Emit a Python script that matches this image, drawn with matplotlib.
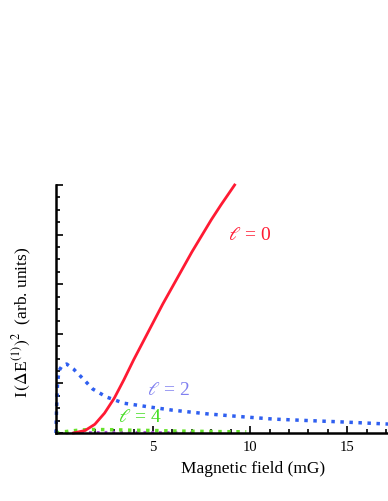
import numpy as np
import matplotlib
matplotlib.use('Agg')
import matplotlib.pyplot as plt
from matplotlib.ticker import MultipleLocator

plt.rcParams['font.family'] = ['Liberation Serif', 'DejaVu Serif']
plt.rcParams['mathtext.fontset'] = 'stix'

# l = 0 (red, solid)
x_l0 = [0.9, 1.5, 2.0, 2.5, 3.0, 3.5, 4.0, 4.5, 5.0, 5.5, 6.0, 6.5, 7.0, 7.5, 8.0, 8.5, 9.2]
y_l0 = [0.0, 0.01, 0.035, 0.08, 0.14, 0.215, 0.295, 0.37, 0.445, 0.52, 0.59, 0.66, 0.73, 0.795, 0.86, 0.92, 1.0]

# l = 2 (blue, dotted)
x_l2 = [0.0, 0.03, 0.08, 0.15, 0.3, 0.55, 0.9, 1.4, 1.9, 2.6, 3.5, 4.8, 6.0, 7.8, 9.5, 11.2, 13.0, 14.6, 17.1]
y_l2 = [0.0, 0.1, 0.2, 0.25, 0.27, 0.278, 0.258, 0.218, 0.177, 0.145, 0.12, 0.105, 0.092, 0.077, 0.066, 0.056, 0.05, 0.045, 0.036]

# l = 4 (green, dotted)
x_l4 = [0.0, 0.3, 1.0, 1.5, 2.0, 3.0, 4.0, 5.0, 6.0, 7.0, 8.0, 9.0, 9.8]
y_l4 = [0.0, 0.004, 0.010, 0.013, 0.014, 0.013, 0.011, 0.010, 0.008, 0.007, 0.006, 0.005, 0.005]

# l = 6 (purple, dotted, almost flat)
x_l6 = [0.5, 1.5, 3.0, 5.0, 7.0]
y_l6 = [0.0, 0.002, 0.003, 0.002, 0.001]

fig = plt.figure(figsize=(3.88, 5.02), dpi=100)
ax = fig.add_axes([0.1443, 0.1355, 0.8557, 0.494])

ax.plot(x_l6, y_l6, color='#b050e0', lw=2.0, ls=(0, (1, 1.8)), clip_on=False)
ax.plot(x_l4, y_l4, color='#66e22a', lw=2.5, ls=(0, (1, 1.6)), clip_on=False)
ax.plot(x_l2, y_l2, color='#2f5ff0', lw=2.5, ls=(0, (1, 1.6)), clip_on=False)
ax.plot(x_l0, y_l0, color='#ff1a33', lw=2.0, clip_on=False)

ax.text(9.95, 0.80, r'$\ell$ = 0', color='#ff1a33', fontsize=14, ha='center', va='center')
ax.text(5.8, 0.177, r'$\ell$ = 2', color='#8080f0', fontsize=14, ha='center', va='center')
ax.text(4.3, 0.065, r'$\ell$ = 4', color='#44dd22', fontsize=14, ha='center', va='center')

ax.set_xlim(0, 17.1)
ax.set_ylim(0, 1.0)

for s in ['top', 'right']:
    ax.spines[s].set_visible(False)
for s in ['left', 'bottom']:
    ax.spines[s].set_linewidth(1.8)

ax.xaxis.set_major_locator(MultipleLocator(5))
ax.xaxis.set_minor_locator(MultipleLocator(1))
ax.yaxis.set_major_locator(MultipleLocator(0.2))
ax.yaxis.set_minor_locator(MultipleLocator(0.05))
ax.tick_params(which='both', direction='in', width=1.2)
ax.tick_params(which='major', length=5)
ax.tick_params(which='minor', length=3)
ax.tick_params(axis='x', labelsize=10.5, pad=5)
ax.tick_params(axis='y', labelleft=False)
ax.set_xticks([5, 10, 15])
ax.set_xticklabels(['5', '10', '15'])

ax.set_xlabel('Magnetic field (mG)', fontsize=12.5)
ax.xaxis.set_label_coords(0.593, -0.11)
ax.set_ylabel(r'I$\,(\Delta$E$^{(1)})^2$  (arb. units)', fontsize=12.5)
ax.yaxis.set_label_coords(-0.066, 0.448)

plt.savefig('out.png', dpi=100)
